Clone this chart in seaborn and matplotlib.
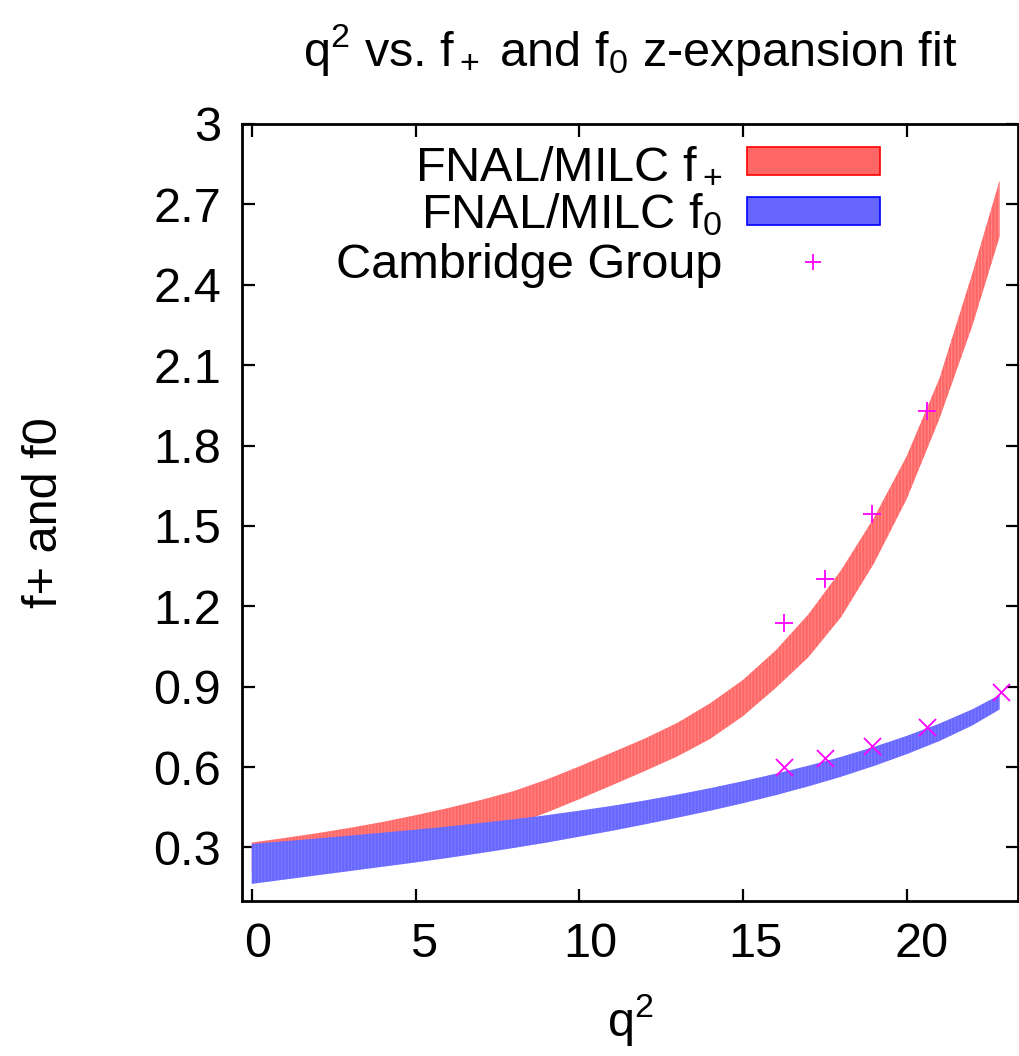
import matplotlib
matplotlib.use("Agg")
import matplotlib.pyplot as plt
from matplotlib.patches import Patch
from matplotlib.lines import Line2D
from matplotlib.ticker import FuncFormatter
from matplotlib.transforms import ScaledTranslation
import pandas as pd
import seaborn as sns

# FNAL/MILC f+ z-expansion band (lower / upper edge)
q2_fplus = [0, 1, 2, 3, 4, 5, 6, 7, 8, 9, 10, 11, 12, 13, 14, 15, 16, 17, 18,
            19, 20, 21, 22, 22.84]
fplus_lo = [0.205, 0.215, 0.228, 0.243, 0.262, 0.285, 0.312, 0.345, 0.385, 0.43,
            0.48, 0.532, 0.585, 0.64, 0.705, 0.79, 0.895, 1.01, 1.16, 1.36, 1.60,
            1.90, 2.245, 2.58]
fplus_hi = [0.318, 0.335, 0.353, 0.373, 0.395, 0.42, 0.447, 0.477, 0.51, 0.553,
            0.602, 0.654, 0.706, 0.765, 0.838, 0.925, 1.035, 1.17, 1.335, 1.53,
            1.76, 2.05, 2.44, 2.79]

# FNAL/MILC f0 z-expansion band (lower / upper edge)
q2_fzero = [0, 1, 2, 3, 4, 5, 6, 7, 8, 9, 10, 11, 12, 13, 14, 15, 16, 17, 18,
            19, 20, 21, 22, 22.84]
fzero_lo = [0.164, 0.18, 0.196, 0.212, 0.228, 0.244, 0.261, 0.279, 0.298, 0.318,
            0.34, 0.362, 0.386, 0.411, 0.437, 0.465, 0.495, 0.528, 0.564, 0.604,
            0.648, 0.697, 0.755, 0.815]
fzero_hi = [0.313, 0.323, 0.333, 0.344, 0.355, 0.366, 0.378, 0.391, 0.405, 0.42,
            0.437, 0.455, 0.475, 0.497, 0.521, 0.547, 0.575, 0.605, 0.638, 0.675,
            0.716, 0.762, 0.815, 0.869]

# Cambridge Group points
cam_fplus_q2 = [16.25, 17.51, 18.93, 20.63]
cam_fplus = [1.136, 1.30, 1.544, 1.93]
cam_fzero_q2 = [16.25, 17.51, 18.93, 20.63, 22.87]
cam_fzero = [0.60, 0.633, 0.68, 0.751, 0.879]

x_ticks = [0, 5, 10, 15, 20]
y_ticks = [0.3, 0.6, 0.9, 1.2, 1.5, 1.8, 2.1, 2.4, 2.7, 3.0]

sns.set_theme(style="ticks")
plt.rcParams["font.family"] = ["Liberation Sans", "DejaVu Sans"]
plt.rcParams["mathtext.fontset"] = "custom"
plt.rcParams["mathtext.rm"] = "Liberation Sans"
plt.rcParams["mathtext.it"] = "Liberation Sans"
plt.rcParams["mathtext.bf"] = "Liberation Sans:bold"
plt.rcParams["hatch.linewidth"] = 0.7
for key in ("text.color", "axes.labelcolor", "xtick.color", "ytick.color",
            "axes.edgecolor"):
    plt.rcParams[key] = "black"

FS = 35
RED = "#ff6666"
BLUE = "#6666ff"
MAG = "#ff00ff"

fig = plt.figure(figsize=(10.2, 10.56), dpi=100)
W, H = 1020, 1056
L, R, T, B = 242, 1018, 124, 901
ax = fig.add_axes([L / W, 1 - B / H, (R - L) / W, (B - T) / H])

ax.fill_between(q2_fplus, fplus_lo, fplus_hi, facecolor=RED, edgecolor="#ff8c8c",
                hatch="|||||", linewidth=0, zorder=2)
ax.fill_between(q2_fzero, fzero_lo, fzero_hi, facecolor=BLUE, edgecolor="#8080ff",
                hatch="|||||", linewidth=0, zorder=3)

pts_fp = pd.DataFrame({"q2": cam_fplus_q2, "f": cam_fplus})
pts_f0 = pd.DataFrame({"q2": cam_fzero_q2, "f": cam_fzero})
sns.scatterplot(data=pts_fp, x="q2", y="f", marker="+", s=150, color=MAG,
                linewidth=1.3, ax=ax, zorder=5, legend=False)
sns.scatterplot(data=pts_f0, x="q2", y="f", marker="x", s=150, color=MAG,
                linewidth=1.3, ax=ax, zorder=5, legend=False)

ax.set_xlim(-0.3, 23.4)
ax.set_ylim(0.1, 3.0)
ax.set_xticks(x_ticks)
ax.set_yticks(y_ticks)
ax.yaxis.set_major_formatter(FuncFormatter(lambda v, p: f"{v:g}"))
ax.tick_params(direction="in", length=9, width=1.6, top=True, right=True,
               labelsize=FS, pad=15, colors="black")
for s in ax.spines.values():
    s.set_linewidth(2.0)
    s.set_color("black")
ax.grid(False)

# x tick labels sit slightly right of their ticks, drifting with distance
for i, lab in enumerate(ax.get_xticklabels()):
    dx = (6 + 2.3 * i) / 100.0
    lab.set_transform(lab.get_transform() + ScaledTranslation(dx, 0, fig.dpi_scale_trans))

ax.set_xlabel("q$^2$", fontsize=FS)
ax.xaxis.label.set_va("center")
ax.xaxis.set_label_coords(0.5, (B - 1020) / (B - T))
ax.set_ylabel("f+ and f0", fontsize=FS)
ax.yaxis.label.set_va("center")
ax.yaxis.set_label_coords((45 - L) / (R - L), 0.5)
ax.set_title("q$^2$ vs. f$_+$ and f$_0$ z-expansion fit", fontsize=FS,
             y=(B - 50) / (B - T), va="center", pad=0)

handles = [
    Patch(facecolor=RED, edgecolor="red", linewidth=1.2, label="FNAL/MILC f$_+$"),
    Patch(facecolor=BLUE, edgecolor="blue", linewidth=1.2, label="FNAL/MILC f$_0$"),
    Line2D([], [], marker="+", linestyle="none", color=MAG, markersize=12,
           markeredgewidth=1.3, label="Cambridge Group"),
]
ax.legend(handles=handles, loc="upper right",
          bbox_to_anchor=((880 - L) / (R - L), (B - 143) / (B - T)),
          frameon=False, markerfirst=False, fontsize=FS, handlelength=2.74,
          handleheight=0.51, handletextpad=0.5, labelspacing=0.08,
          borderpad=0, borderaxespad=0)

fig.savefig("out.png", dpi=100, facecolor="white")
